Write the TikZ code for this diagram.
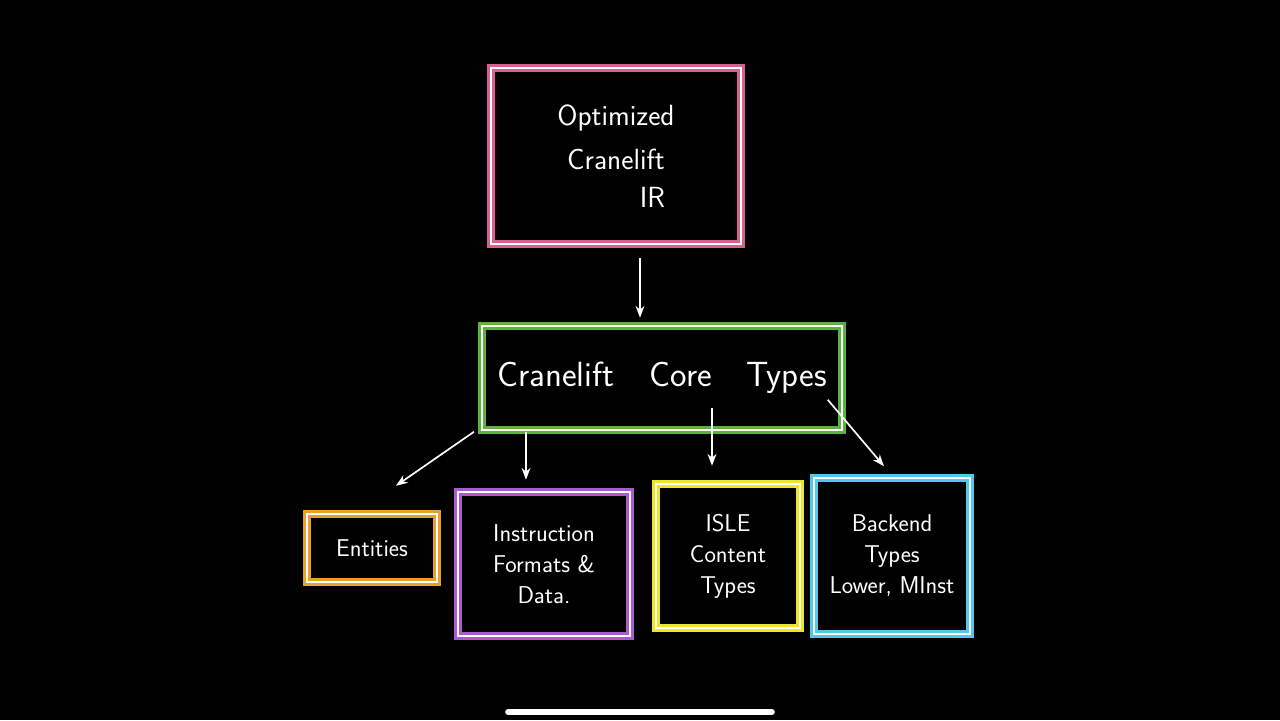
\documentclass[tikz,border=0pt]{standalone}
\usepackage{tikz}
\usetikzlibrary{positioning}
\usetikzlibrary{arrows.meta}
\def\thickness{very thick}
\definecolor{pinkline}{RGB}{214,96,140}
\definecolor{greenline}{RGB}{92,178,64}
\definecolor{orangeline}{RGB}{232,160,40}
\definecolor{purpleline}{RGB}{170,90,210}
\definecolor{yellowline}{RGB}{240,230,40}
\definecolor{cyanline}{RGB}{80,200,240}
\tikzset{
box/.style 2 args={draw=#1, line width=2.5pt, minimum width=#2, align=center,
	text=white, font=\sffamily\huge, double=white, double distance=0pt,
	postaction={draw=white, line width=1pt, shorten >=2pt}},
flow/.style={-{Stealth[open]}, white, \thickness},
}
\begin{document}
\begin{tikzpicture}
	\fill[black] (0,0) rectangle (32,18);
	\useasboundingbox (0,0) rectangle (32,18);
	%
	\node[box={pinkline}{6.25cm}, minimum height=4.4cm] (ir) at (15.4,14.1)
		{Optimized\\[6pt]Cranelift\\[2pt]\hspace{2.5em}IR};
	\node[box={greenline}{9cm}, minimum height=2.6cm, font=\sffamily\Huge] (core) at (16.55,8.55)
		{Cranelift\quad Core\quad Types};
	%
	\node[box={orangeline}{3.25cm}, minimum height=1.7cm, font=\sffamily\LARGE] (ent) at (9.3,4.3) {Entities};
	\node[box={purpleline}{4.3cm}, minimum height=3.6cm, font=\sffamily\LARGE] (inst) at (13.6,3.9)
		{Instruction\\Formats \&\\Data.};
	\node[box={yellowline}{3.6cm}, minimum height=3.6cm, font=\sffamily\LARGE] (isle) at (18.2,4.1)
		{ISLE\\Content\\Types};
	\node[box={cyanline}{3.9cm}, minimum height=3.9cm, font=\sffamily\LARGE] (back) at (22.3,4.1)
		{Backend\\Types\\Lower, MInst};
	%
	\draw[flow] ([xshift=0.6cm,yshift=-0.3cm]ir.south) -- ++(0,-1.5);
	\draw[flow] ([xshift=-4.7cm]core.south) -- ++(-1.95,-1.35);
	\draw[flow] ([xshift=-3.4cm]core.south) -- ++(0,-1.2);
	\draw[flow] ([xshift=1.25cm,yshift=0.6cm]core.south) -- ++(0,-1.45);
	\draw[flow] ([xshift=-0.4cm,yshift=0.8cm]core.south east) -- ([xshift=-0.2cm,yshift=0.25cm]back.north);
	%
	\draw[white, line width=4pt, line cap=round] (12.7,0.2) -- (19.3,0.2);
\end{tikzpicture}
\end{document}
